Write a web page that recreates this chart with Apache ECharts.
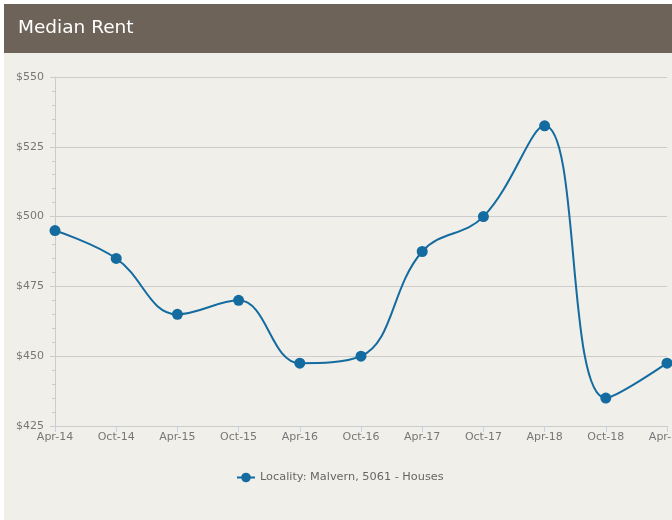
<!DOCTYPE html>
<html>
<head>
<meta charset="utf-8">
<script src="https://cdn.jsdelivr.net/npm/echarts@6/dist/echarts.min.js"></script>
<style>
  html, body { margin: 0; padding: 0; background: #ffffff; }
  #chart { width: 672px; height: 520px; }
</style>
</head>
<body>
<div id="chart"></div>
<script>
// Half-yearly periods on the x axis
const periods = ['Apr-14', 'Oct-14', 'Apr-15', 'Oct-15', 'Apr-16', 'Oct-16',
                 'Apr-17', 'Oct-17', 'Apr-18', 'Oct-18', 'Apr-19'];
// Median weekly rent for houses
const medianRent = [495, 485, 465, 470, 447.5, 450, 487.5, 500, 532.5, 435, 447.5];
const seriesName = 'Locality: Malvern, 5061 - Houses';
const chartTitle = 'Median Rent';

const chart = echarts.init(document.getElementById('chart'), null, { renderer: 'canvas' });
const font = 'DejaVu Sans, sans-serif';

chart.setOption({
  backgroundColor: '#ffffff',
  animation: false,
  textStyle: { fontFamily: font },
  graphic: [
    { type: 'rect', z: -10, shape: { x: 4, y: 4, width: 700, height: 520 },
      style: { fill: '#f0efea' } },
    { type: 'rect', z: -9, shape: { x: 4, y: 4, width: 700, height: 49 },
      style: { fill: '#6e6358' } },
    { type: 'text', z: 10, left: 18, top: 19,
      style: { text: chartTitle, fill: '#ffffff', font: '18.5px ' + font } }
  ],
  grid: { left: 55, right: 5, top: 77, bottom: 94, containLabel: false, outerBoundsMode: 'none' },
  legend: {
    bottom: 32,
    left: 231,
    itemWidth: 18,
    itemHeight: 12,
    itemGap: 10,
    textStyle: { color: '#666666', fontSize: 11.3, fontFamily: font },
    data: [seriesName]
  },
  xAxis: {
    type: 'category',
    data: periods,
    boundaryGap: false,
    axisLine: { lineStyle: { color: '#cccccc', width: 1 } },
    axisTick: { show: true, length: 6, lineStyle: { color: '#c4d2e6' } },
    axisLabel: { color: '#777777', fontSize: 11, margin: 6, fontFamily: font },
    splitLine: { show: false }
  },
  yAxis: {
    type: 'value',
    min: 425,
    max: 550,
    interval: 25,
    axisLine: { show: true, lineStyle: { color: '#cccccc' } },
    axisTick: { show: true, length: 5, lineStyle: { color: '#cccccc' } },
    minorTick: { show: true, splitNumber: 5, length: 3, lineStyle: { color: '#cccccc' } },
    axisLabel: { color: '#777777', fontSize: 11, margin: 11, fontFamily: font,
                 formatter: v => '$' + v },
    splitLine: { show: true, lineStyle: { color: '#cccccc', width: 1 } }
  },
  series: [{
    name: seriesName,
    type: 'line',
    data: medianRent,
    smooth: 0.4,
    symbol: 'circle',
    symbolSize: 11,
    showSymbol: true,
    clip: false,
    lineStyle: { color: '#136b9f', width: 2 },
    itemStyle: { color: '#136b9f' }
  }]
});
</script>
</body>
</html>
